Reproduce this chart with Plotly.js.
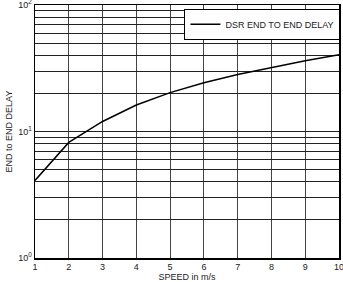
<!DOCTYPE html>
<html>
<head>
<meta charset="utf-8">
<script src="https://cdn.plot.ly/plotly-3.0.1.min.js"></script>
<style>html,body{margin:0;padding:0;background:#fff;}#chart{width:343px;height:282px;}</style>
</head>
<body>
<div id="chart"></div>
<script>
const speed = [1, 2, 3, 4, 5, 6, 7, 8, 9, 10];
const delay = [4.1, 8.2, 12.0, 16.2, 20.3, 24.3, 28.2, 32.0, 36.2, 40.4];
const seriesName = 'DSR END TO END DELAY';
const yGridVals = [1,2,3,4,5,6,7,8,9,10,20,30,40,50,60,70,80,90,100];
const yLabelVals = [1, 10, 100];
const yLabelText = ['10<sup>0</sup>', '10<sup>1</sup>', '10<sup>2</sup>'];

const yTickText = yGridVals.map(v => {
  const i = yLabelVals.indexOf(v);
  return i >= 0 ? yLabelText[i] : '';
});

const fontFam = 'Liberation Sans, Arial, sans-serif';

Plotly.newPlot('chart', [{
  x: speed, y: delay, type: 'scatter', mode: 'lines', name: seriesName,
  line: {color: '#000', width: 1.5}
}], {
  width: 343, height: 282,
  margin: {l: 35, r: 3, t: 5, b: 24},
  paper_bgcolor: '#fff', plot_bgcolor: '#fff',
  font: {family: fontFam, size: 9, color: '#222'},
  showlegend: true,
  legend: {x: 0.49, y: 0.985, xanchor: 'left', yanchor: 'top',
           bgcolor: '#fff', bordercolor: '#000', borderwidth: 1,
           font: {family: fontFam, size: 9, color: '#222'},
           tracegroupgap: 0, itemwidth: 30},
  xaxis: {
    range: [1, 10], tickvals: speed, ticks: '', showgrid: true,
    gridcolor: '#444', gridwidth: 1, showline: true, linecolor: '#000', linewidth: 1.5,
    mirror: true, zeroline: false, ticklen: 0, ticklabeloverflow: 'allow',
    title: {text: 'SPEED in m/s', font: {size: 9, family: fontFam}, standoff: 4}
  },
  yaxis: {
    type: 'log', range: [0, 2], tickvals: yGridVals, ticktext: yTickText,
    ticks: '', showgrid: true, gridcolor: '#222', gridwidth: 1, ticklabeloverflow: 'allow',
    showline: true, linecolor: '#000', linewidth: 1.5, mirror: true, zeroline: false,
    title: {text: 'END to END DELAY', font: {size: 9, family: fontFam}, standoff: 4}
  }
}, {displayModeBar: false, staticPlot: true});
</script>
</body>
</html>
